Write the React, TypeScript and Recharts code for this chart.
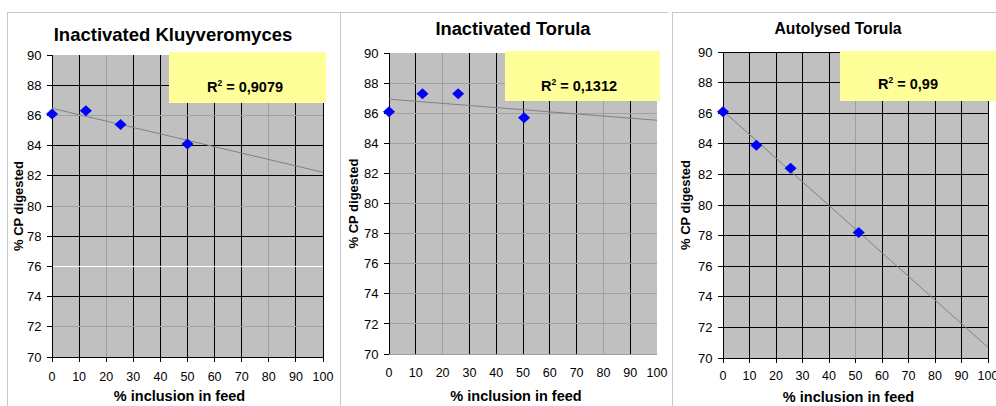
import { ScatterChart, Scatter, XAxis, YAxis, CartesianGrid, ReferenceLine, Label } from 'recharts'

// digestibility of crude protein vs. yeast inclusion level
const xTicks = [0, 10, 20, 30, 40, 50, 60, 70, 80, 90, 100]
const yTicks = [70, 72, 74, 76, 78, 80, 82, 84, 86, 88, 90]

const kluyveromyces = [
  { x: 0, y: 86.1 },
  { x: 12.5, y: 86.3 },
  { x: 25.3, y: 85.4 },
  { x: 50, y: 84.1 },
]
const kluyveromycesTrend = [
  { x: 0, y: 86.47 },
  { x: 100, y: 82.23 },
]

const torula = [
  { x: 0, y: 86.1 },
  { x: 12.5, y: 87.3 },
  { x: 25.8, y: 87.3 },
  { x: 50.4, y: 85.7 },
]
const torulaTrend = [
  { x: 0, y: 86.93 },
  { x: 100, y: 85.53 },
]

const autolysed = [
  { x: 0, y: 86.1 },
  { x: 12.6, y: 83.9 },
  { x: 25.5, y: 82.4 },
  { x: 51.2, y: 78.2 },
]
const autolysedTrend = [
  { x: 0, y: 86.15 },
  { x: 100, y: 70.7 },
]

const titles = ['Inactivated Kluyveromyces', 'Inactivated Torula', 'Autolysed Torula']
const r2Values = ['0,9079', '0,1312', '0,99']

const FONT = "Arial, 'Liberation Sans', sans-serif"
const K = '#000000'
const G = '#a0a0a0'
const W = '#ffffff'

// gridline colours, vertical for x = 10..100, horizontal for y = 72..90
const panels = [
  {
    data: kluyveromyces, trend: kluyveromycesTrend,
    left: 7, width: 333, yAxisW: 45, mTop: 43, mRight: 17, xAxisH: 49,
    yLabelOff: 11, xTickMargin: 9.7, xLabelOff: 5, xLabelDx: -8,
    xLine: K, xTickLine: true,
    vColors: [K, G, K, K, K, K, K, G, K, K],
    hColors: [G, K, W, K, G, K, K, G, K, null],
  },
  {
    data: torula, trend: torulaTrend,
    left: 340, width: 328, yAxisW: 49, mTop: 41, mRight: 11, xAxisH: 52,
    yLabelOff: 13, xTickMargin: 9.3, xLabelOff: 5.3, xLabelDx: -7,
    xLine: G, xTickLine: false,
    vColors: [K, G, K, K, K, K, K, G, K, null],
    hColors: [G, G, G, G, G, G, G, G, G, null],
  },
  {
    data: autolysed, trend: autolysedTrend,
    left: 668, width: 328, yAxisW: 55, mTop: 40, mRight: 8, xAxisH: 48,
    yLabelOff: 17, xTickMargin: 8.4, xLabelOff: 4.3, xLabelDx: -7,
    xLine: K, xTickLine: true,
    vColors: [K, K, K, K, G, K, K, K, K, K],
    hColors: [K, K, K, K, K, K, K, K, K, K],
  },
]

const Diamond = (props: any) => {
  const { cx, cy } = props
  if (cx == null || cy == null) return <g />
  const rx = 6
  const ry = 5.5
  return (
    <polygon
      points={`${cx},${cy - ry} ${cx + rx},${cy} ${cx},${cy + ry} ${cx - rx},${cy}`}
      fill="#0000ff"
    />
  )
}

function Panel({ p }: { p: (typeof panels)[number] }) {
  return (
    <ScatterChart
      width={p.width}
      height={394}
      margin={{ top: p.mTop, right: p.mRight, left: 0, bottom: 0 }}
      style={{ fontFamily: FONT }}
    >
      <CartesianGrid fill="#c0c0c0" stroke="none" horizontal={false} vertical={false} />
      {xTicks.slice(1).map((v, i) =>
        p.vColors[i] ? (
          <ReferenceLine key={'v' + v} x={v} stroke={p.vColors[i]!} strokeWidth={1} shapeRendering="crispEdges" />
        ) : null
      )}
      {yTicks.slice(1).map((v, i) =>
        p.hColors[i] ? (
          <ReferenceLine key={'h' + v} y={v} stroke={p.hColors[i]!} strokeWidth={1} shapeRendering="crispEdges" />
        ) : null
      )}
      <XAxis
        type="number"
        dataKey="x"
        domain={[0, 100]}
        ticks={xTicks}
        interval={0}
        height={p.xAxisH}
        axisLine={{ stroke: p.xLine, shapeRendering: 'crispEdges' }}
        tickLine={p.xTickLine ? { stroke: '#000', shapeRendering: 'crispEdges' } : false}
        tickSize={5}
        tickMargin={p.xTickMargin}
        tick={{ fill: '#000', fontSize: 12.5, fontFamily: FONT }}
      >
        <Label
          value="% inclusion in feed"
          position="insideBottom"
          offset={p.xLabelOff}
          dx={p.xLabelDx}
          style={{ fontSize: 14.5, fontWeight: 'bold', fill: '#000', fontFamily: FONT }}
        />
      </XAxis>
      <YAxis
        type="number"
        dataKey="y"
        domain={[70, 90]}
        ticks={yTicks}
        interval={0}
        width={p.yAxisW}
        axisLine={{ stroke: '#000', shapeRendering: 'crispEdges' }}
        tickLine={{ stroke: '#000', shapeRendering: 'crispEdges' }}
        tickSize={5}
        tickMargin={5.5}
        tick={{ fill: '#000', fontSize: 13, fontFamily: FONT }}
      >
        <Label
          value="% CP digested"
          angle={-90}
          position="insideLeft"
          offset={p.yLabelOff}
          style={{ textAnchor: 'middle', fontSize: 13, fontWeight: 'bold', fill: '#000', fontFamily: FONT }}
        />
      </YAxis>
      <Scatter
        data={p.trend}
        line={{ stroke: '#808080', strokeWidth: 1 }}
        shape={() => <g />}
        isAnimationActive={false}
      />
      <Scatter data={p.data} shape={Diamond} isAnimationActive={false} />
    </ScatterChart>
  )
}

// trendline text boxes
const boxes = [
  { x: 169, y: 52, w: 157, h: 51, cx: 245, base: 92 },
  { x: 505, y: 51, w: 155, h: 50, cx: 579, base: 90.7 },
  { x: 840, y: 51, w: 160, h: 50, cx: 908, base: 89.3 },
]
const titlePos = [
  { cx: 173, base: 41, size: 18.5 },
  { cx: 513, base: 35, size: 18.3 },
  { cx: 838, base: 34, size: 15.7 },
]

export default function App() {
  return (
    <div style={{ position: 'absolute', left: 0, top: 0, width: 996, height: 406, background: '#fff', overflow: 'hidden' }}>
      {/* frames */}
      <div style={{ position: 'absolute', left: 7, top: 12, width: 332, height: 400, borderLeft: '1px solid #c8c8c8', borderTop: '1px solid #c8c8c8', borderRight: '1px solid #c8c8c8' }} />
      <div style={{ position: 'absolute', left: 340, top: 12, width: 328, height: 400, borderTop: '1px solid #c8c8c8' }} />

      {panels.map((p, i) => (
        <div
          key={i}
          style={{ position: 'absolute', left: p.left, top: 12, width: p.width, height: 394, background: i === 2 ? '#fff' : 'transparent' }}
        >
          {i === 2 && (
            <div style={{ position: 'absolute', left: 4, top: 0, width: 400, height: 400, borderLeft: '1px solid #c8c8c8', borderTop: '1px solid #c8c8c8' }} />
          )}
          <div style={{ position: 'absolute', left: 0, top: 0 }}>
            <Panel p={p} />
          </div>
        </div>
      ))}

      <svg width={996} height={406} style={{ position: 'absolute', left: 0, top: 0, pointerEvents: 'none' }}>
        {titles.map((t, i) => (
          <text
            key={t}
            x={titlePos[i].cx}
            y={titlePos[i].base}
            textAnchor="middle"
            fontFamily={FONT}
            fontWeight="bold"
            fontSize={titlePos[i].size}
            fill="#000"
          >
            {t}
          </text>
        ))}
        {boxes.map((b, i) => (
          <g key={i}>
            <rect x={b.x} y={b.y} width={b.w} height={b.h} fill="#ffff99" />
            <text x={b.cx} y={b.base} textAnchor="middle" fontFamily={FONT} fontWeight="bold" fontSize={14.5} fill="#000">
              <tspan>R</tspan>
              <tspan dy={-6} fontSize={8.5}>2</tspan>
              <tspan dy={6}>{' = ' + r2Values[i]}</tspan>
            </text>
          </g>
        ))}
      </svg>
    </div>
  )
}
